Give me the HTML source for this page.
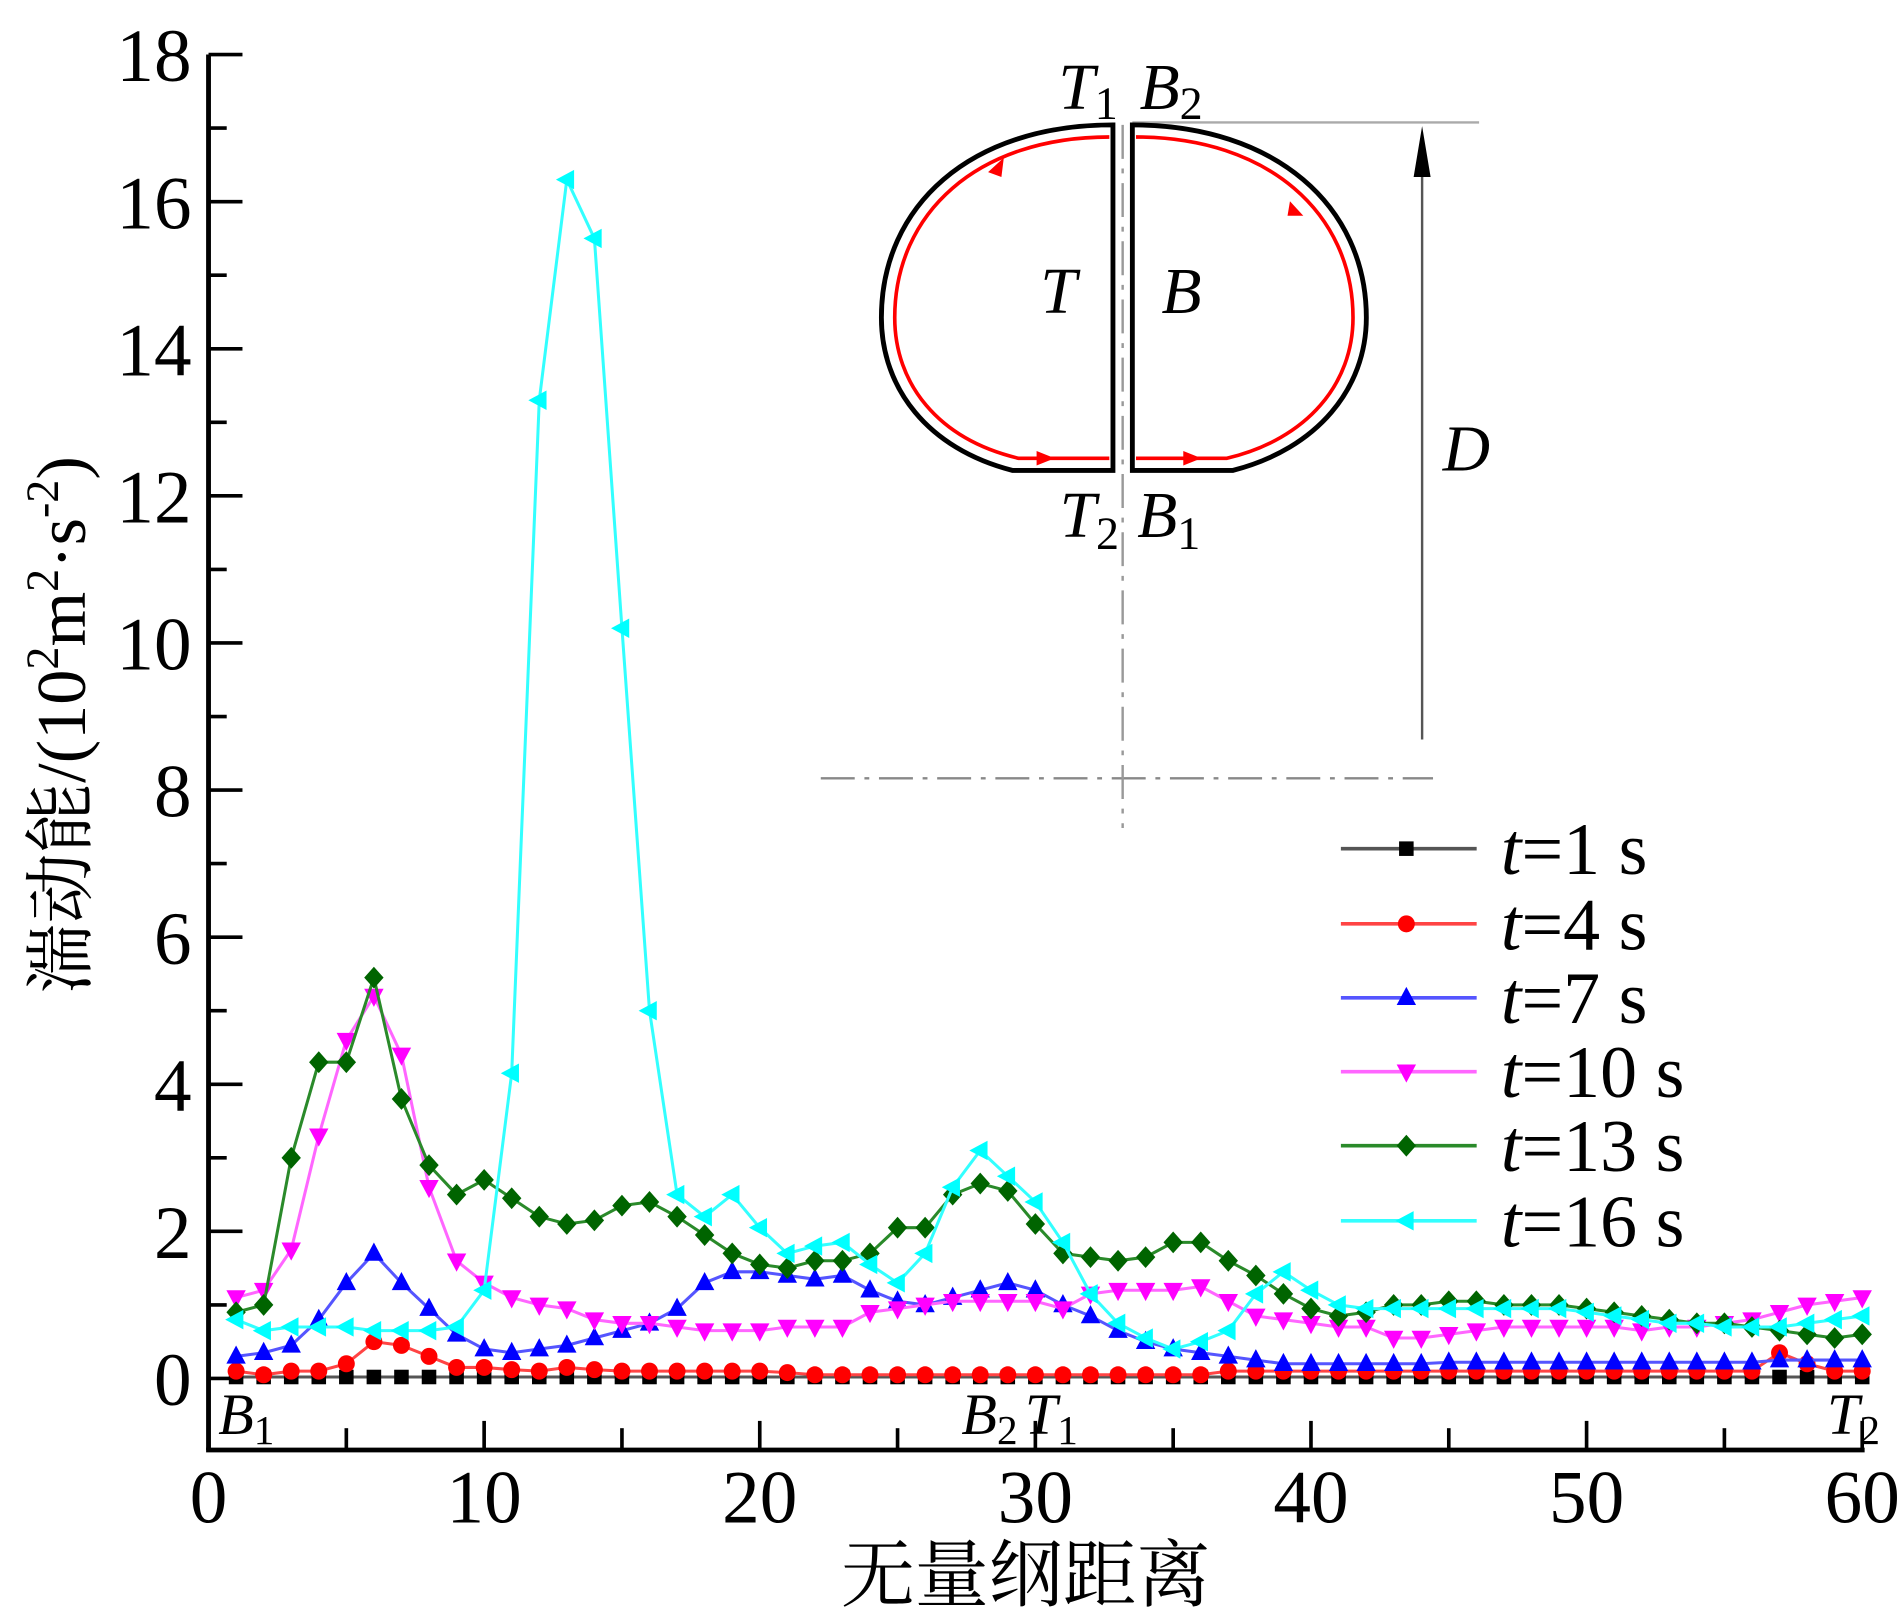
<!DOCTYPE html>
<html><head><meta charset="utf-8"><style>
html,body{margin:0;padding:0;background:#fff;}
svg{display:block;}
text{font-family:"Liberation Serif","Noto Serif CJK SC",serif;fill:#000;}
.cjk{font-family:"Liberation Serif","Noto Serif CJK SC",serif;}
</style></head><body>
<svg id="chart" width="1901" height="1623" viewBox="0 0 1568 1338.7" xmlns="http://www.w3.org/2000/svg">
<g id="inset">
  <line x1="934" y1="101" x2="1220" y2="101" stroke="#aaa" stroke-width="2"/>
  <line x1="1173" y1="610" x2="1173" y2="140" stroke="#555" stroke-width="2"/>
  <polygon points="1173,104 1166,146 1180,146" fill="#000"/>
  <line x1="677" y1="642" x2="1182" y2="642" stroke="#888" stroke-width="2" stroke-dasharray="28,8,4,8"/>
  <line x1="926" y1="103" x2="926" y2="683" stroke="#999" stroke-width="2" stroke-dasharray="28,8,4,8"/>
  <path d="M918,103 C800,103 727,170 727,262 C727,320 765,370 835,388 L918,388 Z" fill="#fff" stroke="#000" stroke-width="4"/>
  <path d="M934,103 C1052,103 1127,170 1127,262 C1127,320 1087,370 1017,388 L934,388 Z" fill="#fff" stroke="#000" stroke-width="4"/>
  <path d="M915,113 C806,113 738,176 738,262 C738,316 773,362 840,378 L915,378" fill="none" stroke="#f00" stroke-width="3"/>
  <path d="M937,113 C1046,113 1116,176 1116,262 C1116,316 1079,362 1012,378 L937,378" fill="none" stroke="#f00" stroke-width="3"/>
  <polygon points="855,372 870,378 855,384" fill="#f00"/>
  <polygon points="976,372 991,378 976,384" fill="#f00"/>
  <polygon points="815,142 828,130 826,146" fill="#f00"/>
  <polygon points="1064,166 1075,178 1062,178" fill="#f00"/>
  <text x="873" y="90" font-size="54" font-style="italic">T<tspan font-size="38" font-style="normal" dy="8">1</tspan></text>
  <text x="940" y="90" font-size="54" font-style="italic">B<tspan font-size="38" font-style="normal" dy="8">2</tspan></text>
  <text x="858" y="258" font-size="54" font-style="italic">T</text>
  <text x="958" y="258" font-size="54" font-style="italic">B</text>
  <text x="874" y="443" font-size="54" font-style="italic">T<tspan font-size="38" font-style="normal" dy="10">2</tspan></text>
  <text x="938" y="443" font-size="54" font-style="italic">B<tspan font-size="38" font-style="normal" dy="10">1</tspan></text>
  <text x="1190" y="388" font-size="54" font-style="italic">D</text>
</g>
<g id="axes"></g>
<g id="series"></g>
<g id="legend"></g>
<text class="cjk" x="846" y="1320" font-size="61" text-anchor="middle">无量纲距离</text>
<text class="cjk" font-size="58" text-anchor="middle" transform="translate(70,598) rotate(-90)">湍动能/(10<tspan font-size="38" dy="-22">2</tspan><tspan dy="22">m</tspan><tspan font-size="38" dy="-22">2</tspan><tspan dy="22">·s</tspan><tspan font-size="38" dy="-22">-2</tspan><tspan dy="22">)</tspan></text>
<text x="180" y="1183" font-size="48" font-style="italic">B<tspan font-size="34" font-style="normal" dy="8">1</tspan></text>
<text x="793" y="1183" font-size="48" font-style="italic">B<tspan font-size="34" font-style="normal" dy="8">2</tspan><tspan dx="6" dy="-8">T</tspan><tspan font-size="34" font-style="normal" dy="8">1</tspan></text>
<text x="1507" y="1183" font-size="48" font-style="italic">T<tspan font-size="34" font-style="normal" dy="8">2</tspan></text>
</svg>
<script>
const xs = Array.from({length:60},(_,i)=>i+1);
const xTicks = [0,10,20,30,40,50,60];
const yTicks = [0,2,4,6,8,10,12,14,16,18];
const seriesNames = ["t=1 s","t=4 s","t=7 s","t=10 s","t=13 s","t=16 s"];
const s1 = [0.02,0.02,0.02,0.02,0.02,0.02,0.02,0.02,0.02,0.02,0.02,0.02,0.02,0.02,0.02,0.02,0.02,0.02,0.02,0.02,0.02,0.02,0.02,0.02,0.02,0.02,0.02,0.02,0.02,0.02,0.02,0.02,0.02,0.02,0.02,0.02,0.02,0.02,0.02,0.02,0.02,0.02,0.02,0.02,0.02,0.02,0.02,0.02,0.02,0.02,0.02,0.02,0.02,0.02,0.02,0.02,0.02,0.02,0.02,0.02];
const s4 = [0.1,0.05,0.1,0.1,0.2,0.5,0.45,0.3,0.15,0.15,0.12,0.1,0.15,0.12,0.1,0.1,0.1,0.1,0.1,0.1,0.08,0.05,0.05,0.05,0.05,0.05,0.05,0.05,0.05,0.05,0.05,0.05,0.05,0.05,0.05,0.05,0.1,0.1,0.1,0.1,0.1,0.1,0.1,0.1,0.1,0.1,0.1,0.1,0.1,0.1,0.1,0.1,0.1,0.1,0.1,0.1,0.35,0.2,0.1,0.1];
const s7 = [0.3,0.35,0.45,0.8,1.3,1.7,1.3,0.95,0.6,0.4,0.35,0.4,0.45,0.55,0.65,0.75,0.95,1.3,1.45,1.45,1.4,1.35,1.4,1.2,1.05,1.0,1.1,1.2,1.3,1.2,1.0,0.85,0.65,0.5,0.4,0.35,0.3,0.25,0.2,0.2,0.2,0.2,0.2,0.2,0.22,0.22,0.22,0.22,0.22,0.22,0.22,0.22,0.22,0.22,0.22,0.22,0.25,0.25,0.25,0.25];
const s10 = [1.1,1.2,1.75,3.3,4.6,5.2,4.4,2.6,1.6,1.3,1.1,1.0,0.95,0.8,0.75,0.75,0.7,0.65,0.65,0.65,0.7,0.7,0.7,0.9,0.95,1.0,1.05,1.05,1.05,1.05,0.95,1.15,1.2,1.2,1.2,1.25,1.05,0.85,0.8,0.75,0.7,0.7,0.55,0.55,0.6,0.65,0.7,0.7,0.7,0.7,0.7,0.65,0.7,0.7,0.75,0.8,0.9,1.0,1.05,1.1];
const s13 = [0.9,1.0,3.0,4.3,4.3,5.45,3.8,2.9,2.5,2.7,2.45,2.2,2.1,2.15,2.35,2.4,2.2,1.95,1.7,1.55,1.5,1.6,1.6,1.7,2.05,2.05,2.5,2.65,2.55,2.1,1.7,1.65,1.6,1.65,1.85,1.85,1.6,1.4,1.15,0.95,0.85,0.9,1.0,1.0,1.05,1.05,1.0,1.0,1.0,0.95,0.9,0.85,0.8,0.75,0.75,0.7,0.65,0.6,0.55,0.6];
const s16 = [0.8,0.65,0.7,0.7,0.7,0.65,0.65,0.65,0.7,1.2,4.15,13.3,16.3,15.5,10.2,5.0,2.5,2.2,2.5,2.05,1.7,1.8,1.85,1.55,1.3,1.7,2.6,3.1,2.75,2.4,1.85,1.15,0.75,0.55,0.4,0.5,0.65,1.15,1.45,1.2,1.0,0.95,0.95,0.95,0.95,0.95,0.95,0.95,0.95,0.9,0.85,0.8,0.75,0.75,0.7,0.7,0.7,0.75,0.8,0.85];

const NS="http://www.w3.org/2000/svg";
const X = v => 172 + v*(1536-172)/60;
const Y = v => 1137 - v*(1137-45)/18;
function mk(tag, attrs, parent){const e=document.createElementNS(NS,tag);for(const k in attrs)e.setAttribute(k,attrs[k]);parent.appendChild(e);return e;}
const axes=document.getElementById('axes');
const ya=mk('line',{x1:172,y1:45,x2:172,y2:1196,stroke:'#000','stroke-width':4},axes);


const xa=mk('line',{x1:170,y1:1196,x2:1538,y2:1196,stroke:'#000','stroke-width':4},axes);


for(let v=0;v<=18;v++){const len=(v%2===0)?28:15;mk('line',{x1:172,y1:Y(v),x2:172+len,y2:Y(v),stroke:'#000','stroke-width':3},axes);}
for(let v=0;v<=60;v+=5){const len=(v%10===0)?24:18;mk('line',{x1:X(v),y1:1196,x2:X(v),y2:1196-len,stroke:'#000','stroke-width':3},axes);}
yTicks.forEach(v=>{const t=mk('text',{x:158,y:Y(v)+22,'font-size':62,'text-anchor':'end'},axes);t.textContent=v;

});
xTicks.forEach(v=>{const t=mk('text',{x:X(v),y:1256,'font-size':62,'text-anchor':'middle'},axes);t.textContent=v;

});

const colors=['#000','#f00','#00f','#f0f','#006400','#00ffff'];
const lineColors=['#555','#f44','#55f','#f6f','#2a8a2a','#3ff'];
const data=[s1,s4,s7,s10,s13,s16];
function marker(i,cx,cy,g){const c=colors[i];
 if(i===0) return mk('rect',{x:cx-6,y:cy-6,width:12,height:12,fill:c},g);
 if(i===1) return mk('circle',{cx:cx,cy:cy,r:7,fill:c},g);
 if(i===2) return mk('polygon',{points:`${cx},${cy-9} ${cx-8},${cy+6} ${cx+8},${cy+6}`,fill:c},g);
 if(i===3) return mk('polygon',{points:`${cx},${cy+9} ${cx-8},${cy-6} ${cx+8},${cy-6}`,fill:c},g);
 if(i===4) return mk('polygon',{points:`${cx},${cy-9} ${cx+8},${cy} ${cx},${cy+9} ${cx-8},${cy}`,fill:c},g);
 return mk('polygon',{points:`${cx-9},${cy} ${cx+6},${cy-8} ${cx+6},${cy+8}`,fill:c},g);}
const sg=document.getElementById('series');
data.forEach((arr,i)=>{
 const g=mk('g',{},sg);
 
 
 mk('polyline',{points:arr.map((v,j)=>X(xs[j])+','+Y(v)).join(' '),fill:'none',stroke:lineColors[i],'stroke-width':2.5},g);
 arr.forEach((v,j)=>{const m=marker(i,X(xs[j]),Y(v),g);
 
 });
});
const lg=document.getElementById('legend');


const rows=[700,762,823,884,945,1007];
seriesNames.forEach((n,i)=>{
 const g=mk('g',{},lg);
 
 
 mk('line',{x1:1106,y1:rows[i],x2:1218,y2:rows[i],stroke:lineColors[i],'stroke-width':3},g);
 marker(i,1160,rows[i],g);
 const t=mk('text',{x:1238,y:rows[i]+21,'font-size':61},g);
 const it=mk('tspan',{'font-style':'italic'},t);it.textContent='t';
 const r=mk('tspan',{},t);r.textContent=n.slice(1);
});
</script>
</body></html>
